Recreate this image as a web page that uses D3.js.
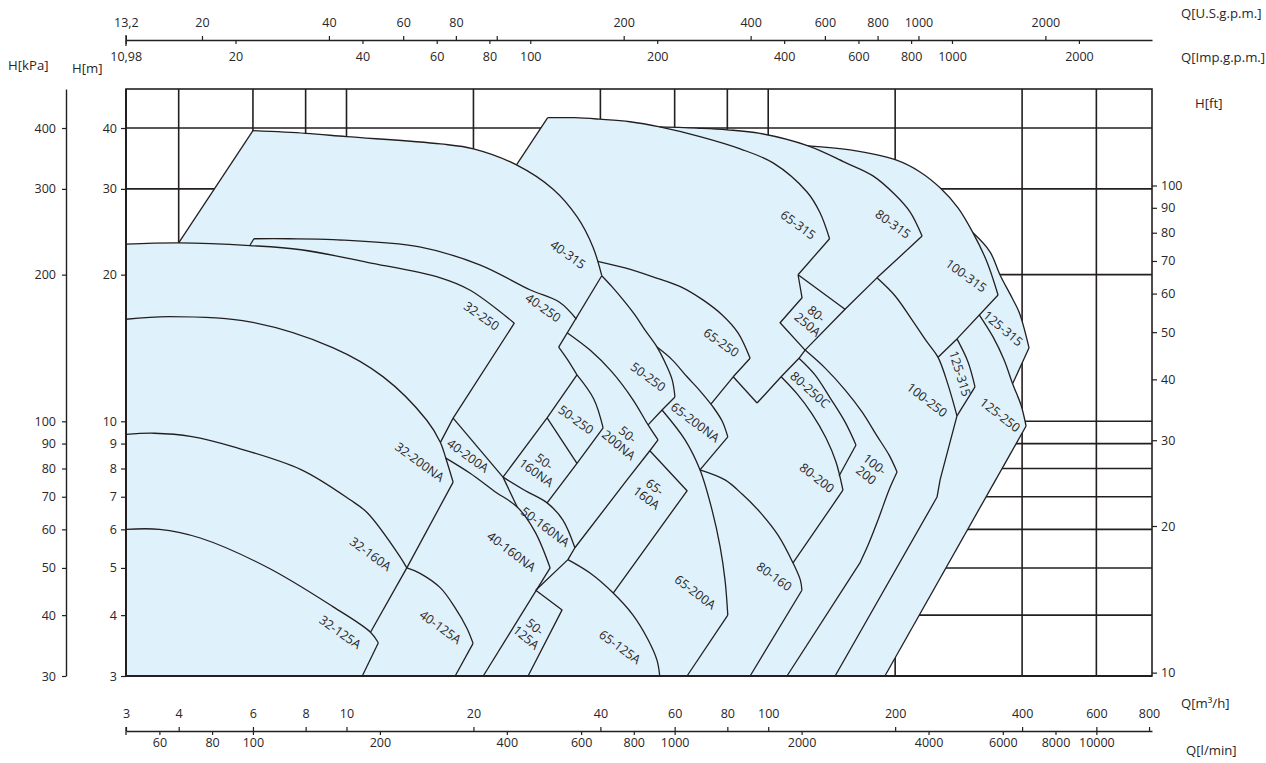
<!DOCTYPE html>
<html>
<head>
<meta charset="utf-8">
<script src="https://cdn.jsdelivr.net/npm/d3@7"></script>
<style>
body { margin: 0; background: #fff; }
text { font-family: "Open Sans", "DejaVu Sans", sans-serif; fill: #2a2627; }
</style>
</head>
<body>
<div id="chart"></div>
<script>
// ---- tick values ----
const Q_M3H = [3, 4, 6, 8, 10, 20, 40, 60, 80, 100, 200, 400, 600, 800];
const Q_LMIN = [60, 80, 100, 200, 400, 600, 800, 1000, 2000, 4000, 6000, 8000, 10000];
const Q_USGPM = [13.2, 20, 40, 60, 80, 100, 200, 400, 600, 800, 1000, 2000];
const Q_IMPGPM = [10.98, 20, 40, 60, 80, 100, 200, 400, 600, 800, 1000, 2000];
const H_M = [3, 4, 5, 6, 7, 8, 9, 10, 20, 30, 40];
const H_KPA = [30, 40, 50, 60, 70, 80, 90, 100, 200, 300, 400];
const H_FT = [10, 20, 30, 40, 50, 60, 70, 80, 90, 100];
const GRID_Q = [4, 6, 8, 10, 20, 40, 60, 80, 100, 200, 400, 600];
const GRID_H = [4, 5, 6, 7, 8, 9, 10, 20, 30, 40];

// ---- pump curves, [Q m3/h, H m] ----
const CURVE_32_125A = [[3,6.0],[3.6,6.0],[4.5,5.76],[6.5,5.01],[9.3,4.16],[11.4,3.69],[11.9,3.51]];
const CURVE_32_160A = [[3,9.4],[3.5,9.45],[4.3,9.3],[5.4,8.86],[7.8,7.96],[10.2,6.9],[11.2,6.49],[13.4,5.27],[13.9,5.0]];
const CURVE_32_200NA = [[3,16.2],[3.8,16.4],[5.9,16.0],[9.3,14.15],[12.2,12.35],[15.5,10.05],[16.7,9.05],[17.2,8.4],[17.9,7.5]];
const CURVE_32_250 = [[3,23.1],[4,23.25],[5.9,22.95],[7.8,22.5],[11.2,21.2],[16.7,19.7],[19.6,18.6],[25,15.9]];
const CURVE_40_315 = [[6,39.5],[8,39],[10,38.4],[16.7,37.1],[20,36.25],[25.3,33.6],[30.9,29.95],[35.2,26.3],[38.4,22.8],[40.3,19.9]];
const CURVE_40_250 = [[6.03,23.7],[7.3,23.7],[9.3,23.6],[14.9,22.8],[20.7,20.95],[27.3,18.6],[32,17.55],[35.1,16.2]];
const CURVE_40_160NA = [[17.2,8.4],[19.64,7.82],[22.5,7.17],[25.4,6.67],[28,5.93],[30.4,5.0]];
const CURVE_40_125A = [[13.9,5.0],[14.9,4.88],[16.7,4.55],[18.1,4.14],[19.3,3.76],[19.96,3.5]];
const CURVE_50_160NA = [[23.5,7.68],[26.5,7.21],[29.9,6.8],[32.6,6.27],[34.8,5.5]];
const CURVE_50_200NA = [[33.35,15.2],[37.8,14.0],[42.6,12.63],[47.8,11.07],[51.9,9.83],[54.8,9.16]];
const CURVE_50_250 = [[40.3,19.9],[42.6,18.9],[45.3,17.75],[48.3,16.53],[51,15.4],[54.5,14.2],[57.3,13.05],[59.2,12.16],[60.1,11.22]];
const CURVE_50_250S_LEFT = [[31.85,14.2],[33.4,13.4],[35.2,12.45]];
const CURVE_50_250S_TOP = [[35.2,12.45],[38.6,11.1],[40.6,9.69]];
const CURVE_65_125A = [[33.5,5.2],[37.8,4.88],[42.9,4.44],[47.8,4.0],[51.9,3.56],[54.5,3.23],[55.3,3.0]];
const CURVE_65_200A = [[56,10.55],[63.5,9.16],[68.9,7.95],[73.6,6.57],[76.9,5.53],[79,4.72],[80.2,4.0]];
const CURVE_65_200NA = [[54.5,14.2],[59.2,13.37],[64.2,12.34],[68.9,11.55],[74,10.7],[77.8,10],[80.2,9.29]];
const CURVE_65_250 = [[39.4,21.3],[45.75,20.65],[53.3,19.8],[61.9,18.9],[70,17.75],[77.8,16.53],[84.8,15.19],[90.6,13.47]];
const CURVE_65_315 = [[30,42],[34.8,42],[39.9,41.7],[47,41.2],[55.3,40.2],[68.9,38.4],[85.8,36.24],[102.7,33.92],[123.6,29.56],[132.7,26.8],[139.8,23.7]];
const CURVE_80_160 = [[68.9,7.95],[79,7.58],[86.7,7.09],[95.6,6.51],[105.5,5.84],[114.5,5.12],[119.2,4.72],[120.2,4.5]];
const CURVE_80_200 = [[107.3,12.34],[117.1,11.38],[127,10.36],[137.1,9.24],[144.8,8.25],[150.4,7.22]];
const CURVE_80_250C = [[118.3,13.47],[129.1,12.45],[140.2,11.17],[152.1,9.97],[161.5,8.94]];
const CURVE_80_315 = [[55.3,40.2],[68.9,39.95],[79.9,39.66],[95.6,39],[124.4,36.76],[152.1,34],[177.2,31.9],[200,29.17],[216.9,26.9],[231.7,24]];
const CURVE_100_200 = [[122.3,14],[136.3,12.87],[152.1,11.6],[166.9,10.45],[181.1,9.33],[193.4,8.53],[202.1,7.87]];
const CURVE_100_200_EDGE = [[202.1,7.87],[193.4,7.23],[182.1,6.27],[172.5,5.57],[165,5.12]];
const CURVE_100_250 = [[181.1,19.7],[200,18.08],[219.3,16.15],[238,14.55],[252.8,13.53],[267,11.88],[280.3,10.26]];
const CURVE_100_315 = [[124.4,36.76],[156.4,36.07],[200.8,34.4],[229.1,32.5],[255.6,30.15],[281.9,27.43],[306,24.37],[330.2,21.24],[350.8,18.17]];
const CURVE_125_315 = [[306,24.37],[335.7,22.28],[354.6,19.97],[378.6,17.93],[394.2,16.69],[415.5,14.15]];
const CURVE_125_315S_TOP = [[280.3,14.76],[297.7,13.24],[309.3,11.77]];
const CURVE_125_250 = [[316.2,16.56],[341.3,14.9],[362.4,13.37],[380.6,11.88],[397.6,10.8],[408.8,9.78]];

// ---- straight boundaries, [Q m3/h, H m] ----
const LINE_32_125A = [[11.9,3.51],[10.9,3.0]];
const LINE_32_160A = [[13.9,5.0],[11.4,3.69]];
const LINE_32_200NA = [[17.9,7.5],[13.9,5.0]];
const LINE_32_250 = [[25,15.9],[17.9,10.15],[16.7,9.05]];
const LINE_40_315_LEFT = [[4,23.25],[6,39.5]];
const LINE_40_315_RIGHT = [[40.3,19.9],[31.85,14.2]];
const LINE_40_250_STEP = [[5.9,22.95],[6.03,23.7]];
const LINE_40_200A_TOP = [[17.9,10.15],[23.5,7.68]];
const LINE_40_200A_RIGHT = [[23.5,7.68],[25.4,6.67]];
const LINE_40_160NA = [[30.4,5.0],[21.1,3.0]];
const LINE_40_125A = [[19.96,3.5],[18.1,3.0]];
const LINE_50_SLOPE_A = [[35.2,12.45],[29.9,10.16],[23.5,7.68]];
const LINE_50_SLOPE_B = [[40.6,9.69],[35.2,8.2],[29.9,6.8]];
const LINE_50_DIVIDER = [[29.9,10.16],[35.2,8.2]];
const LINE_50_200NA = [[54.8,9.16],[52.4,8.7],[46.26,7.58],[34.8,5.5],[33.5,5.2],[28.1,4.5]];
const LINE_50_250 = [[60.1,11.22],[56,10.55],[51.9,9.83]];
const BOX_50_125A = [[28.1,4.5],[32.45,4.1],[26.95,3.0]];
const BOX_65_160A = [[52.4,8.7],[64.2,7.2],[42.9,4.44]];
const LINE_65_200A = [[80.2,4.0],[64.2,3.0]];
const LINE_65_200NA = [[80.2,9.29],[68.9,7.95]];
const LINE_65_250 = [[90.6,13.47],[82.6,12.34],[73.2,10.86]];
const LINE_65_315_LEFT = [[25.3,33.6],[30,42]];
const LINE_65_315_RIGHT = [[139.8,23.7],[117.7,19.99]];
const BOX_80_250A = [[117.7,19.99],[152.1,16.98],[122.3,14],[106.7,15.93],[120.3,17.93],[117.7,19.99]];
const LINE_V_DOWN = [[122.3,14],[118.3,13.47],[107.3,12.34],[94.1,10.9]];
const LINE_V_UP = [[94.1,10.9],[82.6,12.34]];
const LINE_80_250C = [[161.5,8.94],[147.2,7.72]];
const LINE_80_200 = [[150.4,7.22],[114.5,5.12]];
const LINE_80_160 = [[120.2,4.5],[90.6,3.0]];
const LINE_80_315 = [[231.7,24],[181.1,19.7],[152.1,16.98]];
const LINE_100_200 = [[165,5.12],[110.8,3.0]];
const LINE_100_250 = [[280.3,10.26],[255.6,7.58],[251.4,6.99],[144.1,3.0]];
const LINE_100_315 = [[350.8,18.17],[280.3,14.76],[252.8,13.53]];
const LINE_125_315 = [[415.5,14.15],[380,11.95]];
const LINE_125_315S = [[309.3,11.77],[280.3,10.26]];
const LINE_125_250 = [[408.8,9.78],[189.1,3.0]];

// ---- region labels: text, Q, H, angle ----
const LABELS = [
  ["32-125A", 9.66, 3.69, 35], ["32-160A", 11.4, 5.34, 36], ["32-200NA", 14.9, 8.25, 36],
  ["32-250", 20.9, 16.45, 35], ["40-315", 33.5, 22, 35], ["40-250", 29.25, 17.1, 35],
  ["40-200A", 19.4, 8.5, 36], ["40-160NA", 24.6, 5.4, 37], ["40-125A", 16.7, 3.78, 36],
  ["50-\n125A", 27.3, 3.69, 40], ["50-160NA", 29.6, 6.07, 37], ["50-\n160NA", 28.8, 8.05, 36],
  ["50-250", 35, 10.07, 36], ["50-250", 51.9, 12.33, 36], ["50-\n200NA", 45.3, 9.16, 40],
  ["65-250", 77.4, 14.5, 35], ["65-200NA", 67.1, 9.95, 37], ["65-\n160A", 52.6, 7.14, 37],
  ["65-125A", 44.5, 3.44, 36], ["65-200A", 67.1, 4.46, 37], ["65-315", 117.7, 25.3, 36],
  ["80-315", 197.6, 25.4, 36], ["100-315", 294.5, 19.9, 36], ["80-\n250A", 127, 16.2, 40],
  ["80-250C", 125.6, 11.6, 42], ["80-200", 130.5, 7.65, 38], ["100-\n200", 174.7, 7.95, 38],
  ["100-250", 238, 11.06, 38], ["125-315", 285, 12.52, 73], ["125-315", 360.5, 15.5, 40],
  ["125-250", 354.6, 10.3, 38], ["80-160", 103.3, 4.8, 36]
];

const SMOOTH = [CURVE_32_125A, CURVE_32_160A, CURVE_32_200NA, CURVE_32_250, CURVE_40_315, CURVE_40_250,
  CURVE_40_160NA, CURVE_40_125A, CURVE_50_160NA, CURVE_50_200NA, CURVE_50_250, CURVE_50_250S_LEFT,
  CURVE_50_250S_TOP, CURVE_65_125A, CURVE_65_200A, CURVE_65_200NA, CURVE_65_250, CURVE_65_315,
  CURVE_80_160, CURVE_80_200, CURVE_80_250C, CURVE_80_315, CURVE_100_200, CURVE_100_200_EDGE,
  CURVE_100_250, CURVE_100_315, CURVE_125_315, CURVE_125_315S_TOP, CURVE_125_250];
const STRAIGHT = [LINE_32_125A, LINE_32_160A, LINE_32_200NA, LINE_32_250, LINE_40_315_LEFT, LINE_40_315_RIGHT,
  LINE_40_250_STEP, LINE_40_200A_TOP, LINE_40_200A_RIGHT, LINE_40_160NA, LINE_40_125A, LINE_50_SLOPE_A,
  LINE_50_SLOPE_B, LINE_50_DIVIDER, LINE_50_200NA, LINE_50_250, BOX_50_125A, BOX_65_160A, LINE_65_200A,
  LINE_65_200NA, LINE_65_250, LINE_65_315_LEFT, LINE_65_315_RIGHT, BOX_80_250A, LINE_V_DOWN, LINE_V_UP,
  LINE_80_250C, LINE_80_200, LINE_80_160, LINE_80_315, LINE_100_200, LINE_100_250, LINE_100_315,
  LINE_125_315, LINE_125_315S, LINE_125_250];

// Layout
const W = 1266, H = 763;
const ink = "#231f20";
const fillBlue = "#dff1fa";
const font = "'Open Sans', 'DejaVu Sans', sans-serif";

const svg = d3.select("#chart").append("svg").attr("width", W).attr("height", H);

// Scales (log-log)
const x = d3.scaleLog().domain([3, 813]).range([126, 1152]);
const y = d3.scaleLog().domain([3, 48.1]).range([676, 89]);
const xUS = d3.scaleLog().domain([3 * 4.4029, 813 * 4.4029]).range(x.range());
const xImp = d3.scaleLog().domain([3 * 3.6662, 813 * 3.6662]).range(x.range());
const xLmin = d3.scaleLog().domain([3 * 16.667, 813 * 16.667]).range(x.range());
const yKpa = d3.scaleLog().domain([30, 481]).range(y.range());
const yFt = d3.scaleLog().domain([3 / 0.3048, 48.1 / 0.3048]).range(y.range());

const smooth = d3.line().x(d => x(d[0])).y(d => y(d[1])).curve(d3.curveCatmullRom.alpha(0.5));
const straight = d3.line().x(d => x(d[0])).y(d => y(d[1]));

// Grid
const grid = svg.append("g").attr("stroke", ink).attr("stroke-width", 1.6);
GRID_Q.forEach(q => grid.append("line").attr("x1", x(q)).attr("x2", x(q)).attr("y1", y.range()[1]).attr("y2", y.range()[0]));
GRID_H.forEach(h => grid.append("line").attr("x1", x.range()[0]).attr("x2", x.range()[1]).attr("y1", y(h)).attr("y2", y(h)));

// Coverage envelope, assembled from the same curves
function join(pieces) {
  return pieces.map((p, i) => {
    const s = (p[1] ? smooth : straight)(p[0]);
    return i === 0 ? s : "L" + s.slice(1);
  }).join("") + "Z";
}
const envelope = join([
  [[[3, 3], [3, 23.1]], false],
  [CURVE_32_250.slice(0, 2), false],
  [LINE_40_315_LEFT, false],
  [CURVE_40_315.slice(0, 6), true],
  [LINE_65_315_LEFT, false],
  [CURVE_65_315.slice(0, 5), true],
  [CURVE_80_315.slice(0, 5), true],
  [CURVE_100_315.slice(0, 7), true],
  [CURVE_125_315, true],
  [LINE_125_315, false],
  [CURVE_125_250.slice(3), true],
  [LINE_125_250, false],
  [[[189.1, 3], [3, 3]], false]
]);
svg.append("path").attr("d", envelope).attr("fill", fillBlue).attr("stroke", "none");

// Region boundaries
const bounds = svg.append("g").attr("fill", "none").attr("stroke", ink)
  .attr("stroke-width", 1.3).attr("stroke-linejoin", "round");
SMOOTH.forEach(c => bounds.append("path").attr("d", smooth(c)));
STRAIGHT.forEach(c => bounds.append("path").attr("d", straight(c)));

// Frame
svg.append("rect")
  .attr("x", x.range()[0]).attr("y", y.range()[1])
  .attr("width", x.range()[1] - x.range()[0]).attr("height", y.range()[0] - y.range()[1])
  .attr("fill", "none").attr("stroke", ink).attr("stroke-width", 1.6);
svg.append("line").attr("x1", x.range()[0]).attr("x2", x.range()[1])
  .attr("y1", y.range()[0]).attr("y2", y.range()[0]).attr("stroke", ink).attr("stroke-width", 2.2);
svg.append("line").attr("x1", x.range()[0]).attr("x2", x.range()[0])
  .attr("y1", y.range()[1]).attr("y2", y.range()[0]).attr("stroke", ink).attr("stroke-width", 2);

// Region labels
LABELS.forEach(([t, q, h, a]) => {
  const lines = t.split("\n");
  const txt = svg.append("text")
    .attr("transform", `translate(${x(q)},${y(h)}) rotate(${a})`)
    .attr("text-anchor", "middle")
    .attr("font-size", 12.5);
  lines.forEach((l, i) => {
    txt.append("tspan").attr("x", 0)
      .attr("dy", i === 0 ? (lines.length > 1 ? "-0.2em" : "0.35em") : "1.1em")
      .text(l);
  });
});

// Axes
const comma = d => String(d).replace(".", ",");
function styleAxis(g, keepDomain) {
  g.attr("font-size", 12.5).attr("font-family", font);
  g.selectAll("line").attr("stroke", ink).attr("stroke-width", 1.2);
  g.selectAll("text").attr("fill", "#2a2627");
  if (keepDomain) g.select(".domain").attr("stroke", ink).attr("stroke-width", 1.4);
  else g.select(".domain").remove();
}

// top: U.S. gpm above, Imp gpm below the same line
const gUS = svg.append("g").attr("transform", "translate(0,40)")
  .call(d3.axisTop(xUS).tickValues(Q_USGPM).tickSize(4).tickSizeOuter(0).tickPadding(9)
    .tickFormat(d => d === 100 ? "" : comma(d)));
styleAxis(gUS, true);
const gImp = svg.append("g").attr("transform", "translate(0,40)")
  .call(d3.axisBottom(xImp).tickValues(Q_IMPGPM).tickSize(4).tickPadding(8).tickFormat(comma));
styleAxis(gImp, false);
svg.append("line").attr("x1", x(3)).attr("x2", x(3)).attr("y1", 35).attr("y2", 46)
  .attr("stroke", ink).attr("stroke-width", 1.3);

// bottom: m3/h above, l/min below
const gM3h = svg.append("g").attr("transform", "translate(0,731)")
  .call(d3.axisTop(x).tickValues(Q_M3H).tickSize(4).tickSizeOuter(0).tickPadding(9).tickFormat(d => d));
styleAxis(gM3h, true);
const gL = svg.append("g").attr("transform", "translate(0,731)")
  .call(d3.axisBottom(xLmin).tickValues(Q_LMIN).tickSize(4).tickPadding(3).tickFormat(d => d));
styleAxis(gL, false);
svg.append("line").attr("x1", x(3)).attr("x2", x(3)).attr("y1", 727).attr("y2", 735)
  .attr("stroke", ink).attr("stroke-width", 1.3);

// left: kPa and m
const gK = svg.append("g").attr("transform", "translate(66,0)")
  .call(d3.axisLeft(yKpa).tickValues(H_KPA).tickSize(4).tickSizeOuter(0).tickPadding(6).tickFormat(d => d));
styleAxis(gK, true);
const gM = svg.append("g").attr("transform", `translate(${x.range()[0]},0)`)
  .call(d3.axisLeft(y).tickValues(H_M).tickSize(5).tickPadding(4).tickFormat(d => d));
styleAxis(gM, false);

// right: ft
const gF = svg.append("g").attr("transform", `translate(${x.range()[1]},0)`)
  .call(d3.axisRight(yFt).tickValues(H_FT).tickSize(5).tickPadding(4).tickFormat(d => d));
styleAxis(gF, false);

// Axis titles
const titles = [
  ["Q[U.S.g.p.m.]", 1181, 18], ["Q[Imp.g.p.m.]", 1181, 62],
  ["H[kPa]", 8, 70], ["H[m]", 72, 73], ["H[ft]", 1195, 108],
  ["Q[m³/h]", 1181, 708], ["Q[l/min]", 1186, 755]
];
titles.forEach(([t, tx, ty]) => svg.append("text").attr("x", tx).attr("y", ty)
  .attr("font-size", 13.2).text(t));
</script>
</body>
</html>
